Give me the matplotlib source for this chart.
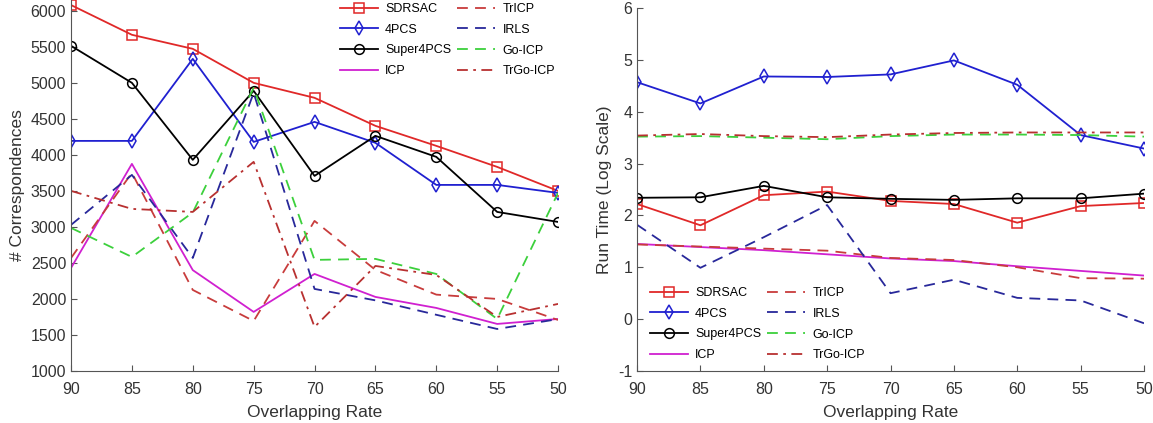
import matplotlib.pyplot as plt

overlap = [90, 85, 80, 75, 70, 65, 60, 55, 50]

# left panel: number of correspondences
corr_sdrsac = [6080, 5667, 5472, 5000, 4792, 4403, 4125, 3833, 3500]
corr_4pcs = [4194, 4194, 5333, 4180, 4458, 4167, 3583, 3583, 3472]
corr_super4pcs = [5514, 5000, 3931, 4889, 3708, 4264, 3972, 3208, 3069]
corr_icp = [2430, 3875, 2400, 1820, 2347, 2028, 1875, 1653, 1722]
corr_tricp = [2569, 3750, 2125, 1694, 3083, 2403, 2060, 2000, 1708]
corr_irls = [3028, 3722, 2569, 4861, 2139, 1980, 1780, 1583, 1720]
corr_goicp = [2986, 2583, 3200, 4930, 2542, 2556, 2347, 1722, 3472]
corr_trgoicp = [3500, 3250, 3208, 3903, 1611, 2458, 2333, 1750, 1931]

# right panel: run time (log scale)
time_sdrsac = [2.22, 1.81, 2.39, 2.46, 2.28, 2.22, 1.86, 2.18, 2.24]
time_4pcs = [4.57, 4.16, 4.68, 4.67, 4.72, 4.99, 4.52, 3.55, 3.29]
time_super4pcs = [2.34, 2.35, 2.57, 2.35, 2.32, 2.30, 2.33, 2.33, 2.42]
time_icp = [1.45, 1.39, 1.33, 1.25, 1.17, 1.12, 1.02, 0.93, 0.84]
time_tricp = [1.44, 1.40, 1.36, 1.32, 1.18, 1.14, 1.00, 0.79, 0.78]
time_irls = [1.82, 0.99, 1.58, 2.20, 0.50, 0.76, 0.41, 0.36, -0.08]
time_goicp = [3.52, 3.53, 3.50, 3.47, 3.53, 3.56, 3.56, 3.55, 3.52]
time_trgoicp = [3.54, 3.57, 3.53, 3.51, 3.56, 3.59, 3.60, 3.60, 3.60]

names = ['SDRSAC', '4PCS', 'Super4PCS', 'ICP', 'TrICP', 'IRLS', 'Go-ICP', 'TrGo-ICP']
styles = {
    'SDRSAC': dict(color='#e02828', ls='-', marker='s'),
    '4PCS': dict(color='#2020d0', ls='-', marker='d'),
    'Super4PCS': dict(color='#000000', ls='-', marker='o'),
    'ICP': dict(color='#d020d0', ls='-', marker=None),
    'TrICP': dict(color='#c83c3c', ls=(0, (6, 4)), marker=None),
    'IRLS': dict(color='#28289a', ls=(0, (6, 4)), marker=None),
    'Go-ICP': dict(color='#3cd03c', ls=(0, (6, 4)), marker=None),
    'TrGo-ICP': dict(color='#b83030', ls=(0, (6, 3, 1.5, 3)), marker=None),
}

corr = {'SDRSAC': corr_sdrsac, '4PCS': corr_4pcs, 'Super4PCS': corr_super4pcs,
        'ICP': corr_icp, 'TrICP': corr_tricp, 'IRLS': corr_irls,
        'Go-ICP': corr_goicp, 'TrGo-ICP': corr_trgoicp}
times = {'SDRSAC': time_sdrsac, '4PCS': time_4pcs, 'Super4PCS': time_super4pcs,
         'ICP': time_icp, 'TrICP': time_tricp, 'IRLS': time_irls,
         'Go-ICP': time_goicp, 'TrGo-ICP': time_trgoicp}

plt.rcParams['font.family'] = ['Liberation Sans', 'DejaVu Sans']
plt.rcParams['axes.unicode_minus'] = False

fig = plt.figure(figsize=(11.53, 4.23), dpi=100)
ax1 = fig.add_axes([0.0616, 0.123, 0.4224, 0.877])
ax2 = fig.add_axes([0.5525, 0.123, 0.4397, 0.858])

legend_pos = {0: (340 / 1153, 1 - 3 / 423), 1: (650 / 1153, 1 - 287 / 423)}

for i, (ax, data) in enumerate([(ax1, corr), (ax2, times)]):
    for name in names:
        st = styles[name]
        ax.plot(overlap, data[name], color=st['color'], linestyle=st['ls'],
                marker=st['marker'], markersize=7, markerfacecolor='none',
                markeredgewidth=1.1, linewidth=1.3, label=name)
    ax.set_xlim(90, 50)
    ax.set_xticks(overlap)
    ax.set_xlabel('Overlapping Rate', fontsize=12.5, color='#333333', labelpad=6)
    for s in ['top', 'right']:
        ax.spines[s].set_visible(False)
    for s in ['left', 'bottom']:
        ax.spines[s].set_color('#555555')
    ax.tick_params(direction='in', labelsize=11.5, colors='#555555',
                   labelcolor='#333333', length=4)
    ax.tick_params(axis='x', pad=8)
    ax.legend(ncol=2, frameon=False, fontsize=9, handlelength=3.0,
              columnspacing=0.5, labelspacing=0.7, handletextpad=0.6,
              borderpad=0, borderaxespad=0, loc='upper left',
              bbox_to_anchor=legend_pos[i], bbox_transform=fig.transFigure)

ax1.set_ylim(1000, 6150)
ax1.set_yticks(range(1000, 6001, 500))
ax1.set_ylabel('# Correspondences', fontsize=12.5, color='#333333')

ax2.set_ylim(-1, 6)
ax2.set_yticks(range(-1, 7))
ax2.set_ylabel('Run Time (Log Scale)', fontsize=12.5, color='#333333')

plt.savefig('out.png', dpi=100)
